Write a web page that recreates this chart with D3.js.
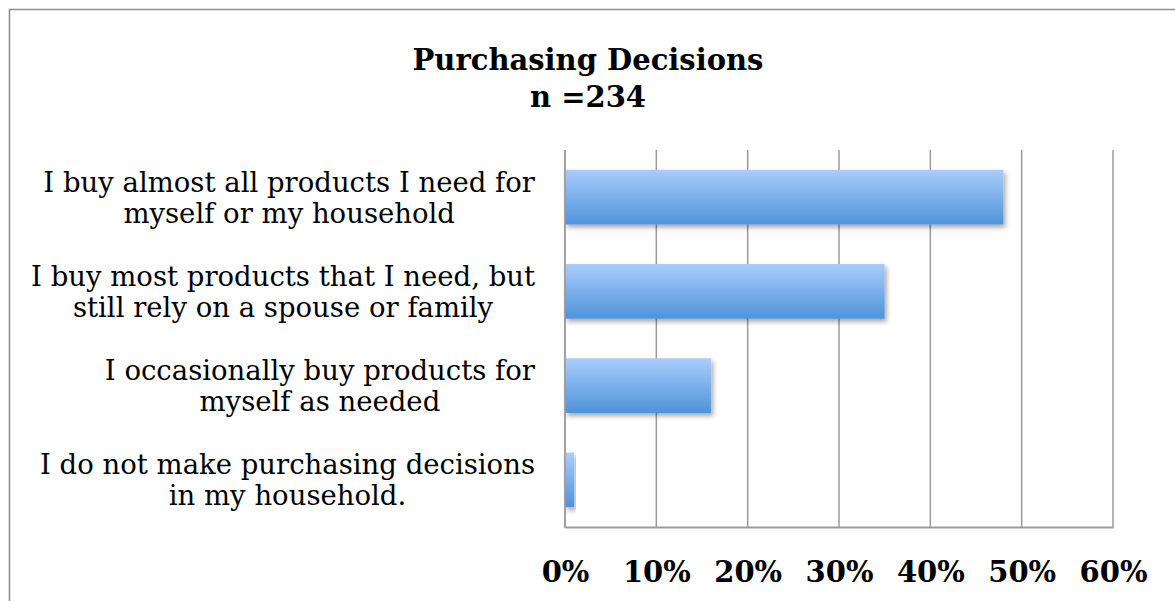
<!DOCTYPE html>
<html>
<head>
<meta charset="utf-8">
<script src="https://cdn.jsdelivr.net/npm/d3@7"></script>
<style>
  body { margin: 0; background: #fff; }
  text { font-family: Georgia, "DejaVu Serif", serif; fill: #000; }
</style>
</head>
<body>
<svg id="chart" width="1175" height="601"></svg>
<script>
// chart data
const categories = [
    ["I buy almost all products I need for", "myself or my household"],
    ["I buy most products that I need, but", "still rely on a spouse or family"],
    ["I occasionally buy products for", "myself as needed"],
    ["I do not make purchasing decisions", "in my household."]
];
const shares = [0.48, 0.35, 0.16, 0.01];
const tickValues = [0, 0.1, 0.2, 0.3, 0.4, 0.5, 0.6];
const titleLines = ["Purchasing Decisions", "n =234"];

const WIDTH = 1175;
const HEIGHT = 601;
const PLOT_LEFT = 565;
const PLOT_RIGHT = 1113;
const PLOT_TOP = 150;
const PLOT_BOTTOM = 527;
const GRID_COLOR = "#9b9b9b";

const svg = d3.select("#chart");

// gradient + shadow for the bars
const defs = svg.append("defs");
const grad = defs.append("linearGradient")
    .attr("id", "barGrad")
    .attr("x1", 0).attr("y1", 0).attr("x2", 0).attr("y2", 1);
grad.append("stop").attr("offset", "0%").attr("stop-color", "#a9cdfc");
grad.append("stop").attr("offset", "100%").attr("stop-color", "#4f93da");

const shadow = defs.append("filter")
    .attr("id", "barShadow")
    .attr("x", "-20%").attr("y", "-20%")
    .attr("width", "140%").attr("height", "150%");
shadow.append("feDropShadow")
    .attr("dx", 2).attr("dy", 3)
    .attr("stdDeviation", 2.5)
    .attr("flood-color", "#000")
    .attr("flood-opacity", 0.35);

// outer border (runs off the right and bottom edges)
svg.append("path")
    .attr("d", "M9.5," + HEIGHT + " V9.5 H" + WIDTH)
    .attr("fill", "none")
    .attr("stroke", "#8f8f8f")
    .attr("stroke-width", 1.6);

// title
svg.append("text")
    .attr("x", 588)
    .attr("text-anchor", "middle")
    .attr("font-weight", "bold")
    .attr("font-size", 29)
    .selectAll("tspan")
    .data(titleLines)
    .join("tspan")
    .attr("x", 588)
    .attr("y", (d, i) => 70 + i * 37)
    .text(d => d);

const x = d3.scaleLinear()
    .domain([0, 0.6])
    .range([PLOT_LEFT, PLOT_RIGHT]);

const y = d3.scaleBand()
    .domain(d3.range(categories.length))
    .range([PLOT_TOP, PLOT_BOTTOM])
    .paddingInner(0.42)
    .paddingOuter(0.21);

// vertical gridlines
svg.append("g")
    .selectAll("line")
    .data(tickValues)
    .join("line")
    .attr("x1", d => x(d)).attr("x2", d => x(d))
    .attr("y1", PLOT_TOP).attr("y2", PLOT_BOTTOM)
    .attr("stroke", GRID_COLOR)
    .attr("stroke-width", 1.5);

// bottom axis line + labels
const xAxis = d3.axisBottom(x)
    .tickValues(tickValues)
    .tickSize(0)
    .tickPadding(34)
    .tickFormat(d3.format(".0%"));

const axisG = svg.append("g")
    .attr("transform", "translate(0," + PLOT_BOTTOM + ")")
    .call(xAxis);
axisG.select(".domain")
    .attr("stroke", GRID_COLOR)
    .attr("stroke-width", 2);
axisG.selectAll("text")
    .attr("font-family", "Georgia, 'DejaVu Serif', serif")
    .attr("font-size", 29)
    .attr("font-weight", "bold")
    .attr("fill", "#000");

// bars
svg.append("g")
    .selectAll("rect")
    .data(shares)
    .join("rect")
    .attr("x", x(0))
    .attr("y", (d, i) => y(i))
    .attr("width", d => x(d) - x(0))
    .attr("height", y.bandwidth())
    .attr("fill", "url(#barGrad)")
    .attr("filter", "url(#barShadow)");

// left axis line drawn over the bar starts
svg.append("line")
    .attr("x1", x(0)).attr("x2", x(0))
    .attr("y1", PLOT_TOP).attr("y2", PLOT_BOTTOM + 1)
    .attr("stroke", GRID_COLOR)
    .attr("stroke-width", 1.5);

// category labels: lines centred on each other, block ends at x=535
const LABEL_RIGHT = 535;
const LINE_GAP = 31;
categories.forEach((lines, i) => {
    const g = svg.append("g");
    const texts = g.selectAll("text")
        .data(lines)
        .join("text")
        .attr("font-size", 27.5)
        .attr("text-anchor", "middle")
        .text(d => d);
    let maxW = 0;
    texts.each(function() { maxW = Math.max(maxW, this.getComputedTextLength()); });
    const cx = LABEL_RIGHT - maxW / 2;
    const mid = y(i) + y.bandwidth() / 2;
    texts.attr("x", cx)
        .attr("y", (d, j) => mid - 5.5 + j * LINE_GAP);
});
</script>
</body>
</html>
